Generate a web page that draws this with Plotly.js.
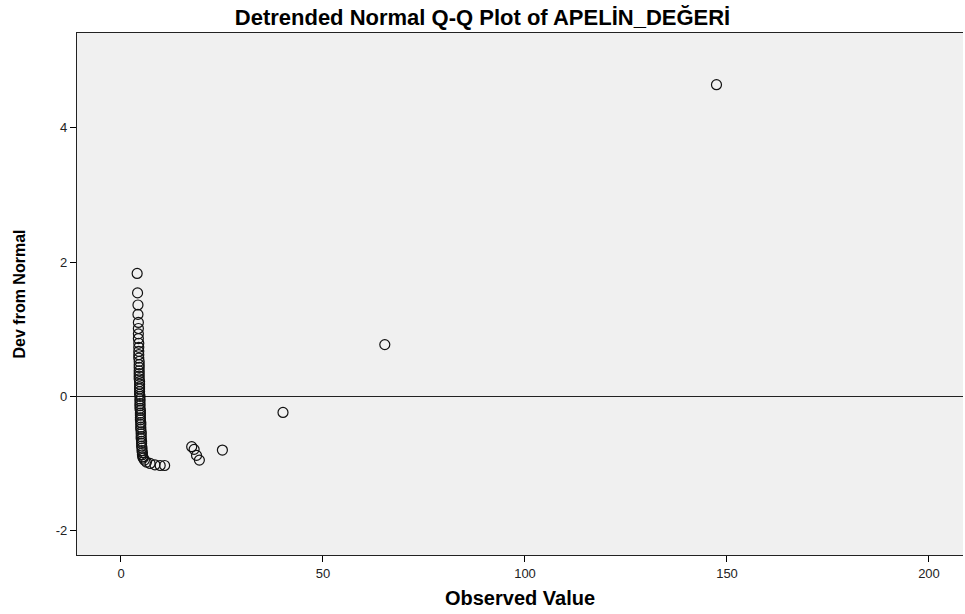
<!DOCTYPE html>
<html>
<head>
<meta charset="utf-8">
<script src="https://cdn.plot.ly/plotly-3.0.1.min.js"></script>
<style>html,body{margin:0;padding:0;background:#fff;}#chart{width:965px;height:614px;}</style>
</head>
<body>
<div id="chart"></div>
<script>
const observedValue = [
  4.0, 4.1, 4.2, 4.2, 4.3, 4.3, 4.3, 4.3, 4.4, 4.4,
  4.4, 4.4, 4.4, 4.5, 4.5, 4.5, 4.5, 4.5, 4.5, 4.5,
  4.6, 4.6, 4.6, 4.6, 4.6, 4.6, 4.7, 4.7, 4.7, 4.7,
  4.7, 4.7, 4.8, 4.8, 4.8, 4.8, 4.8, 4.9, 4.9, 4.9,
  4.9, 5.0, 5.0, 5.0, 5.0, 5.1, 5.1, 5.1, 5.2, 5.2,
  5.3, 5.3, 5.4, 5.5, 5.8, 6.3, 7.2, 8.4, 9.7, 10.8,
  17.5, 18.1, 18.7, 19.4, 25.1, 40.1, 65.3, 147.4
];
const devFromNormal = [
  1.83, 1.54, 1.36, 1.22, 1.10, 1.01, 0.93, 0.86, 0.79, 0.73,
  0.67, 0.62, 0.57, 0.52, 0.47, 0.43, 0.38, 0.34, 0.30, 0.26,
  0.22, 0.18, 0.14, 0.11, 0.07, 0.03, 0.00, -0.04, -0.07, -0.11,
  -0.14, -0.18, -0.21, -0.25, -0.28, -0.32, -0.35, -0.39, -0.42, -0.46,
  -0.49, -0.53, -0.56, -0.60, -0.63, -0.67, -0.70, -0.74, -0.77, -0.81,
  -0.84, -0.87, -0.90, -0.92, -0.95, -0.98, -1.00, -1.02, -1.03, -1.03,
  -0.75, -0.79, -0.88, -0.95, -0.80, -0.24, 0.77, 4.64
];
const xTickValues = [0, 50, 100, 150, 200];
const yTickValues = [-2, 0, 2, 4];

const trace = {
  type: 'scatter',
  mode: 'markers',
  x: observedValue,
  y: devFromNormal,
  marker: {symbol: 'circle-open', size: 10, color: '#111', line: {width: 1.2, color: '#111'}},
  hoverinfo: 'x+y'
};

const fam = 'Liberation Sans, Arial, sans-serif';

const layout = {
  width: 965, height: 614,
  margin: {l: 77, r: 2, t: 33, b: 59},
  paper_bgcolor: '#ffffff',
  plot_bgcolor: '#F0F0F0',
  showlegend: false,
  title: {
    text: 'Detrended Normal Q-Q Plot of APELİN_DEĞERİ',
    font: {family: fam, size: 22, color: '#000', weight: 'bold'},
    x: 0.5, xref: 'container', xanchor: 'center',
    y: 1 - 17/614, yref: 'container', yanchor: 'middle'
  },
  xaxis: {
    range: [-10.89, 208.42],
    tickvals: xTickValues,
    ticktext: xTickValues.map(String),
    ticks: 'outside', ticklen: 6, tickcolor: '#000', tickwidth: 1,
    showline: true, linecolor: '#222', linewidth: 1.2, mirror: true,
    showgrid: false, zeroline: false,
    tickfont: {family: fam, size: 13, color: '#222'},
    title: {text: 'Observed Value', standoff: 11,
      font: {family: fam, size: 20, color: '#000', weight: 'bold'}}
  },
  yaxis: {
    range: [-2.363, 5.41],
    tickvals: yTickValues,
    ticktext: yTickValues.map(String),
    ticks: 'outside', ticklen: 6, tickcolor: '#000', tickwidth: 1,
    showline: true, linecolor: '#222', linewidth: 1.2,
    showgrid: false,
    zeroline: true, zerolinecolor: '#222', zerolinewidth: 1.4,
    tickfont: {family: fam, size: 13, color: '#222'},
    title: {text: 'Dev from Normal', standoff: 26,
      font: {family: fam, size: 16, color: '#000', weight: 'bold'}}
  }
};

Plotly.newPlot('chart', [trace], layout, {displayModeBar: false, staticPlot: true});
</script>
</body>
</html>
